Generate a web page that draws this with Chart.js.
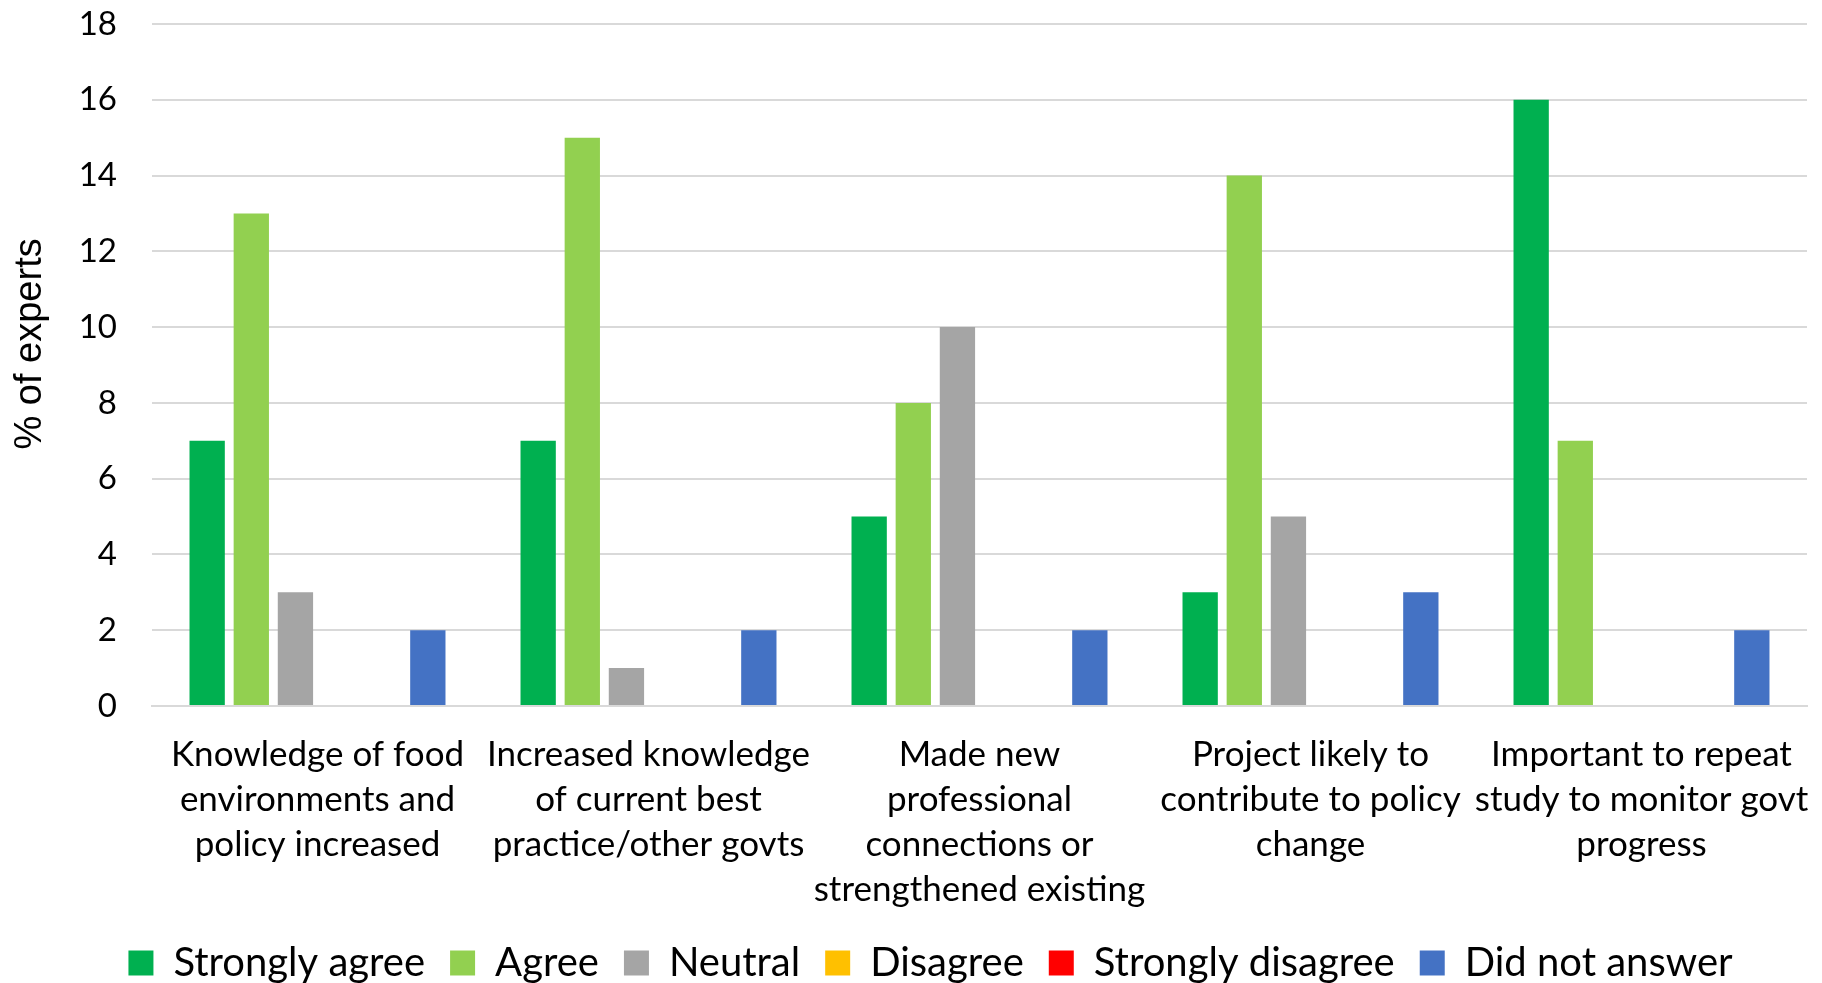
<!DOCTYPE html>
<html>
<head>
<meta charset="utf-8">
<title>Expert survey responses</title>
<script src="https://cdn.jsdelivr.net/npm/chart.js@4.4.1/dist/chart.umd.min.js"></script>
<style>
  html, body { margin: 0; padding: 0; background: #ffffff; }
  #wrap { width: 1822px; height: 983px; }
</style>
</head>
<body>
<div id="wrap"><canvas id="surveyChart" width="1822" height="983"></canvas></div>
<script>
// survey statements (wrapped the same way as the axis labels)
const categories = [
    ['Knowledge of food', 'environments and', 'policy increased'],
    ['Increased knowledge', 'of current best', 'practice/other govts'],
    ['Made new', 'professional', 'connections or', 'strengthened existing'],
    ['Project likely to', 'contribute to policy', 'change'],
    ['Important to repeat', 'study to monitor govt', 'progress']
];

// % of experts per answer
const stronglyAgree    = [7, 7, 5, 3, 16];
const agree            = [13, 15, 8, 14, 7];
const neutral          = [3, 1, 10, 5, 0];
const disagree         = [0, 0, 0, 0, 0];
const stronglyDisagree = [0, 0, 0, 0, 0];
const didNotAnswer     = [2, 2, 2, 3, 2];

const yTicks = [0, 2, 4, 6, 8, 10, 12, 14, 16, 18];

const labelFont = 'Lato, Calibri, "Open Sans", sans-serif';

// nudge the legend row a little to the right
const legendShift = {
    id: 'legendShift',
    afterLayout(chart) {
        chart.legend.left += 27;
        chart.legend.right += 27;
    }
};

const ctx = document.getElementById('surveyChart').getContext('2d');

const surveyChart = new Chart(ctx, {
    type: 'bar',
    data: {
        labels: categories,
        datasets: [
            { label: 'Strongly agree',    data: stronglyAgree,    backgroundColor: '#00B050' },
            { label: 'Agree',             data: agree,            backgroundColor: '#92D050' },
            { label: 'Neutral',           data: neutral,          backgroundColor: '#A5A5A5' },
            { label: 'Disagree',          data: disagree,         backgroundColor: '#FFC000' },
            { label: 'Strongly disagree', data: stronglyDisagree, backgroundColor: '#FF0000' },
            { label: 'Did not answer',    data: didNotAnswer,     backgroundColor: '#4472C4' }
        ]
    },
    options: {
        responsive: false,
        animation: false,
        devicePixelRatio: 1,
        categoryPercentage: 0.8,
        barPercentage: 0.8,
        layout: {
            padding: { top: 24, right: 15, bottom: -10, left: 0 }
        },
        scales: {
            x: {
                // transparent tick marks push the labels down without widening the padding
                grid: { display: true, drawOnChartArea: false, drawTicks: true, tickLength: 26, tickColor: 'rgba(0,0,0,0)' },
                border: { display: true, color: '#D9D9D9', width: 2 },
                ticks: {
                    color: '#000000',
                    font: { family: labelFont, size: 35, lineHeight: 1.29 },
                    padding: 0,
                    maxRotation: 0,
                    minRotation: 0,
                    autoSkip: false
                },
                // keep the plot bottom fixed above the labels and legend
                afterFit: (scale) => { scale.height = 212; }
            },
            y: {
                min: 0,
                max: 18,
                afterBuildTicks: (scale) => {
                    scale.ticks = yTicks.map(v => ({ value: v }));
                },
                // invisible tick marks give the gap between numbers and plot
                grid: { color: '#D9D9D9', lineWidth: 2, drawTicks: true, tickLength: 31, tickColor: 'rgba(0,0,0,0)' },
                border: { display: false },
                ticks: {
                    color: '#000000',
                    font: { family: labelFont, size: 33 },
                    padding: 4
                },
                title: {
                    display: true,
                    text: '\u00A0\u00A0\u00A0\u00A0% of experts',
                    color: '#000000',
                    font: { family: '"Liberation Sans", Arial, sans-serif', size: 38, lineHeight: 1.2 },
                    padding: { top: 8, bottom: 0 }
                },
                afterFit: (scale) => { scale.width = 152; }
            }
        },
        plugins: {
            legend: {
                position: 'bottom',
                labels: {
                    color: '#000000',
                    font: { family: labelFont, size: 40 },
                    boxWidth: 25,
                    boxHeight: 25,
                    padding: 25
                }
            },
            tooltip: { enabled: false }
        }
    },
    plugins: [legendShift]
});
</script>
</body>
</html>
